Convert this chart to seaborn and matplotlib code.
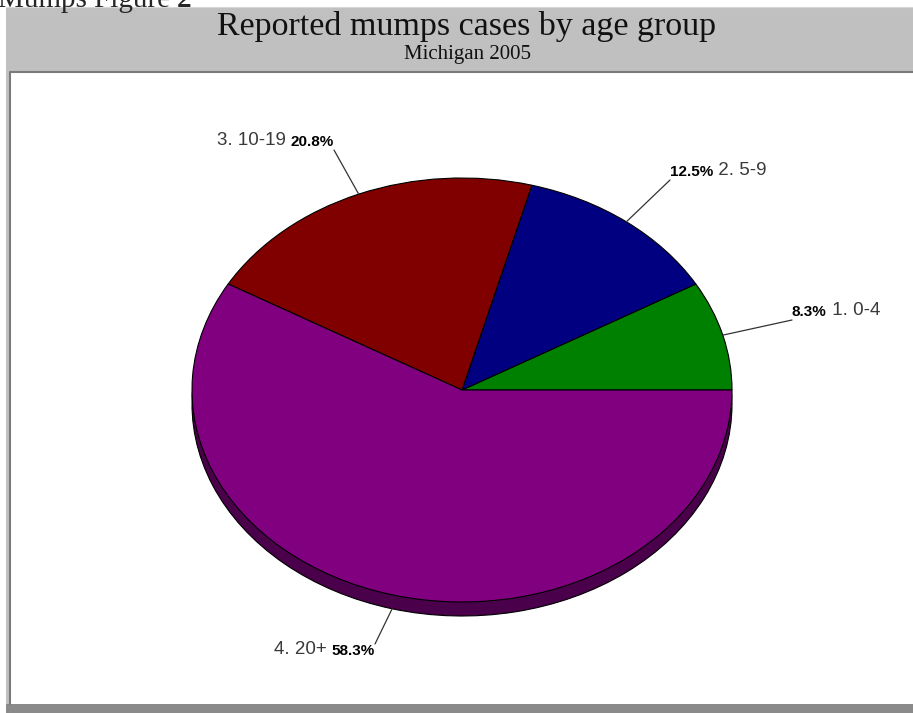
import numpy as np
import matplotlib
matplotlib.use("Agg")
import matplotlib.pyplot as plt
from matplotlib.patches import Rectangle
import seaborn as sns

# data
groups = ["1. 0-4", "2. 5-9", "3. 10-19", "4. 20+"]
cases = [2, 3, 5, 14]
top_colors = ["#008000", "#000080", "#800000", "#800080"]
side_colors = ["#004000", "#000040", "#400000", "#4a004a"]

title = "Reported mumps cases by age group"
subtitle = "Michigan 2005"

sns.set_theme(style="white")

W, H = 913, 713
fig = plt.figure(figsize=(W / 100, H / 100), dpi=100)

# background axes in pixel coords (y down)
bg = fig.add_axes([0, 0, 1, 1])
bg.set_xlim(0, W)
bg.set_ylim(H, 0)
bg.axis("off")
bg.add_patch(Rectangle((6, 7), W - 6, H - 7, facecolor="#c0c0c0", edgecolor="none"))
bg.add_patch(Rectangle((6, 704), W - 6, 9, facecolor="#8a8a8a", edgecolor="none"))
bg.add_patch(Rectangle((10, 72), W - 10, 632, facecolor="white", edgecolor="none"))
bg.plot([10, 10, W], [704, 72, 72], color="#7a7a7a", lw=1.5)
bg.plot([6, W], [7, 7], color="#d8d8d8", lw=0.8)

# caption above the frame (cut off at the top, as in the source)
cap = bg.text(-2, 7, "Mumps Figure ", family="Liberation Serif", fontsize=21,
              va="baseline", ha="left")
bg.annotate("2", xy=(1, 0), xycoords=cap, family="Liberation Serif", fontsize=21,
            fontweight="bold", va="bottom", ha="left")
bg.text(467, 27, title, family="Liberation Serif", fontsize=24.5,
        ha="center", va="center", color="#111111")
bg.text(467, 55, subtitle, family="Liberation Serif", fontsize=15,
        ha="center", va="center", color="#111111")

# pie geometry (pixels)
cx, cy, rx, ry = 462, 390, 270, 212
depth = 14 / ry
x0, x1, y0, y1 = -1.05, 1.05, -1.2, 1.05
left = cx + x0 * rx
right = cx + x1 * rx
top = cy - y1 * ry
bottom = cy - y0 * ry
ax = fig.add_axes([left / W, 1 - bottom / H, (right - left) / W, (bottom - top) / H])

wp = dict(edgecolor="black", linewidth=0.8)
ax.pie(cases, colors=side_colors, startangle=0, counterclock=True,
       center=(0, -depth), wedgeprops=wp, frame=True)
ax.pie(cases, colors=top_colors, startangle=0, counterclock=True,
       center=(0, 0), wedgeprops=wp, frame=True)
ax.set_xlim(x0, x1)
ax.set_ylim(y0, y1)
ax.set_aspect("auto")
ax.axis("off")

# labels with leader lines
total = sum(cases)
cum = np.cumsum([0] + cases)
# text anchor (pixels), side of the label
anchors = [(792, 320, "right"), (670, 180, "right"), (334, 150, "left"), (375, 644, "below")]
norm_kw = dict(family="Liberation Sans", fontsize=13.5, color="#3a3a3a")
bold_kw = dict(family="Liberation Sans", fontsize=11, fontweight="bold", color="black")
for i, (g, v) in enumerate(zip(groups, cases)):
    mid = np.deg2rad((cum[i] + cum[i + 1]) / 2 / total * 360)
    sx = cx + rx * np.cos(mid)
    sy = cy - ry * np.sin(mid)
    if np.sin(mid) < 0:
        sy += depth * ry
    axx, ayy, side = anchors[i]
    ax.plot([sx, axx], [sy, ayy], color="#333333", lw=0.9,
            transform=bg.transData, clip_on=False)
    pct = f"{v / total * 100:.1f}%"
    if side == "right":
        t = ax.text(axx, ayy - 1, pct, transform=bg.transData, ha="left", va="bottom", **bold_kw)
        ax.annotate(" " + g, xy=(1, 0), xycoords=t, ha="left", va="bottom", **norm_kw)
    elif side == "left":
        t = ax.text(axx, ayy - 1, pct, transform=bg.transData, ha="right", va="bottom", **bold_kw)
        ax.annotate(g + " ", xy=(0, 0), xycoords=t, ha="right", va="bottom", **norm_kw)
    else:
        t = ax.text(axx, ayy, pct, transform=bg.transData, ha="right", va="top", **bold_kw)
        ax.annotate(g + " ", xy=(0, 0), xycoords=t, ha="right", va="bottom", **norm_kw)

fig.savefig("out.png", dpi=100)
